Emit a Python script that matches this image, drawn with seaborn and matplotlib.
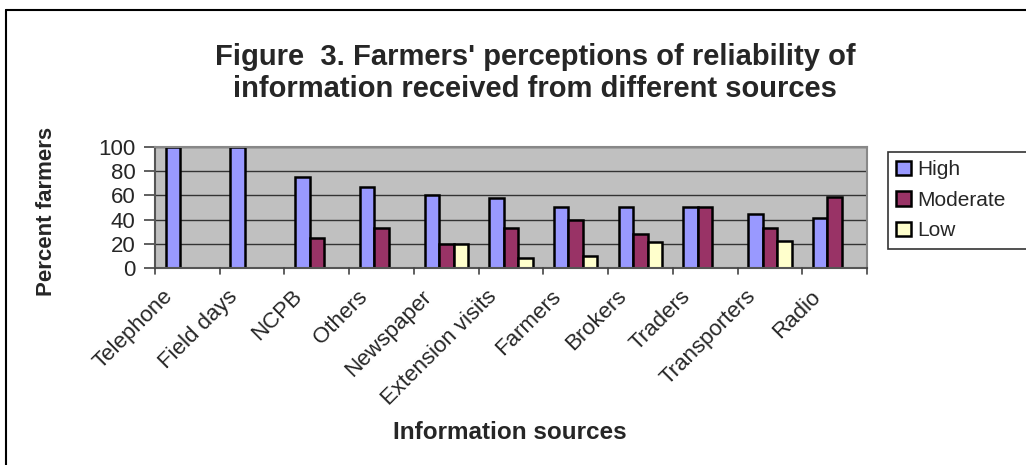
import matplotlib
matplotlib.use("Agg")
import matplotlib.pyplot as plt
import matplotlib.transforms as mtransforms
import seaborn as sns
import pandas as pd
from matplotlib.patches import Patch
from matplotlib.lines import Line2D

sources = ["Telephone", "Field days", "NCPB", "Others", "Newspaper",
           "Extension visits", "Farmers", "Brokers", "Traders",
           "Transporters", "Radio"]
high = [100, 100, 75, 66.7, 60, 58, 50, 50, 50, 45, 41]
moderate = [0, 0, 25, 33.3, 20, 33.3, 40, 28.4, 50, 33.3, 59]
low = [0, 0, 0, 0, 20, 8, 10, 21.7, 0, 22.3, 0]
levels = ["High", "Moderate", "Low"]
colors = ["#9999FF", "#993366", "#FFFFCC"]
yticks = [0, 20, 40, 60, 80, 100]

rows = []
for i, s in enumerate(sources):
    for lvl, vals in zip(levels, [high, moderate, low]):
        rows.append({"source": s, "level": lvl, "value": vals[i]})
df = pd.DataFrame(rows)

sns.set_theme(style="white")
plt.rcParams['font.family'] = ['Liberation Sans', 'DejaVu Sans']

W, H = 1026, 465
fig = plt.figure(figsize=(W / 100, H / 100), dpi=100)

def fx(px):
    return px / W

def fy(py):
    return 1 - py / H

ax = fig.add_axes([fx(155), fy(268), fx(867) - fx(155), fy(147) - fy(268)])
ax.set_facecolor("#C0C0C0")

sns.barplot(data=df, x="source", y="value", hue="level", order=sources,
            hue_order=levels, palette=colors, width=0.67, gap=0,
            edgecolor="black", linewidth=1.8, ax=ax, legend=False,
            saturation=1)

for p in ax.patches:
    if p.get_height() == 0:
        p.set_visible(False)

ax.set_ylim(0, 100)
ax.set_xlim(-0.5, len(sources) - 0.5)
ax.set_yticks(yticks)
ax.set_yticklabels([str(t) for t in yticks], fontsize=16)
for t in yticks[1:]:
    ax.axhline(t, color="#333333", linewidth=1.0, zorder=0.5)

ax.set_xticks([i for i in range(len(sources))])
ax.set_xticklabels(sources, rotation=45, ha="right", rotation_mode="anchor",
                   fontsize=16)
ax.tick_params(axis="x", length=0, pad=13)
offset = mtransforms.ScaledTranslation(-0.25, 0, fig.dpi_scale_trans)
for lab in ax.get_xticklabels():
    lab.set_transform(lab.get_transform() + offset)
for i in range(len(sources) + 1):
    ax.plot([i - 0.5, i - 0.5], [0, -5], color="#444444", linewidth=1.2,
            clip_on=False, zorder=5)
ax.tick_params(axis="y", length=8, width=1.2, color="#444444", left=True,
               pad=6)

for side in ["left", "bottom"]:
    ax.spines[side].set_color("#555555")
    ax.spines[side].set_linewidth(1.5)
for side in ["right", "top"]:
    ax.spines[side].set_color("#888888")
    ax.spines[side].set_linewidth(1.5)

ax.set_xlabel("")
ax.set_ylabel("")

fig.text(fx(47), fy(211), "Percent farmers", rotation=90, ha="center",
         va="center", fontsize=16, fontweight="bold")
fig.text(fx(510), fy(432), "Information sources", ha="center", va="center",
         fontsize=17.5, fontweight="bold")

fig.text(fx(535), fy(65), "Figure  3. Farmers' perceptions of reliability of",
         ha="center", va="baseline", fontsize=21, fontweight="bold")
fig.text(fx(535), fy(97), "information received from different sources",
         ha="center", va="baseline", fontsize=21, fontweight="bold")

handles = [Patch(facecolor=c, edgecolor="black", linewidth=1.8) for c in colors]
leg = fig.legend(handles, levels, loc="upper left",
                 bbox_to_anchor=(fx(888), fy(249), fx(1060) - fx(888),
                                 fy(152) - fy(249)),
                 mode="expand", frameon=True,
                 fontsize=15, handlelength=0.7, handleheight=0.7,
                 handletextpad=0.3, labelspacing=0.55, borderpad=0.4,
                 fancybox=False, borderaxespad=0)
leg.get_frame().set_edgecolor("black")
leg.get_frame().set_linewidth(1.2)

fig.add_artist(Line2D([fx(6), fx(6)], [fy(10.5), 0], color="black",
                      linewidth=1.5))
fig.add_artist(Line2D([fx(6), 1], [fy(10.5), fy(10.5)], color="black",
                      linewidth=1.5))

fig.savefig("out.png", dpi=100)
